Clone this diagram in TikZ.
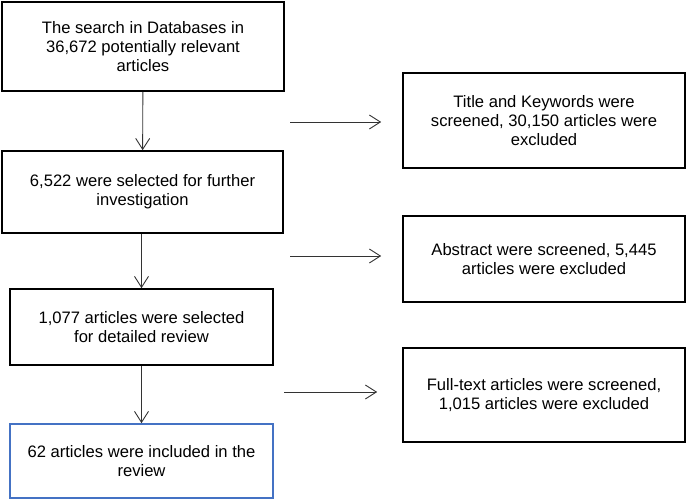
\documentclass[tikz,border=0pt]{standalone}
\usepackage{fontspec}
\setmainfont{Liberation Sans}
\usetikzlibrary{arrows.meta, positioning}

\definecolor{boxblue}{RGB}{68,114,196}

\begin{document}
\begin{tikzpicture}[x=1pt, y=-1pt,
    box/.style={draw, line width=1.6pt, align=center, inner sep=0pt,
        font=\fontsize{16.6}{19}\selectfont},
    arr/.style={-{Straight Barb[length=11pt,width=14pt]}, line width=0.9pt, black!80}]
    % Frame
    \useasboundingbox (0,0) rectangle (686,500);

    % Main column
    \node[box, minimum width=282, minimum height=89] (search) at (143,46.5)
        {The search in Databases in\\36,672 potentially relevant\\articles};
    \node[box, minimum width=281, minimum height=82] (selected) at (142.5,192)
        {6,522 were selected for further\\investigation};
    \node[box, minimum width=263, minimum height=76] (detailed) at (141.5,327)
        {1,077 articles were selected\\for detailed review};
    \node[box, draw=boxblue, minimum width=263, minimum height=74] (included) at (141.5,461)
        {62 articles were included in the\\review};

    % Exclusion column
    \node[box, minimum width=282, minimum height=95] (title) at (544,120.5)
        {Title and Keywords were\\screened, 30,150 articles were\\excluded};
    \node[box, minimum width=282, minimum height=86] (abstract) at (544,259)
        {Abstract were screened, 5,445\\articles were excluded};
    \node[box, minimum width=282, minimum height=94] (fulltext) at (544,395)
        {Full-text articles were screened,\\1,015 articles were excluded};

    % Downward arrows
    \draw[arr] (search) -- (selected);
    \draw[arr] (selected.south -| detailed) -- (detailed);
    \draw[arr] (detailed) -- (included);

    % Side arrows
    \coordinate (t1) at (290,122);
    \coordinate (t2) at (290,256);
    \coordinate (t3) at (284,392);
    \draw[arr, shorten >=21pt] (t1) -- (t1 -| title.west);
    \draw[arr, shorten >=21pt] (t2) -- (t2 -| abstract.west);
    \draw[arr, shorten >=25pt] (t3) -- (t3 -| fulltext.west);

\end{tikzpicture}
\end{document}
